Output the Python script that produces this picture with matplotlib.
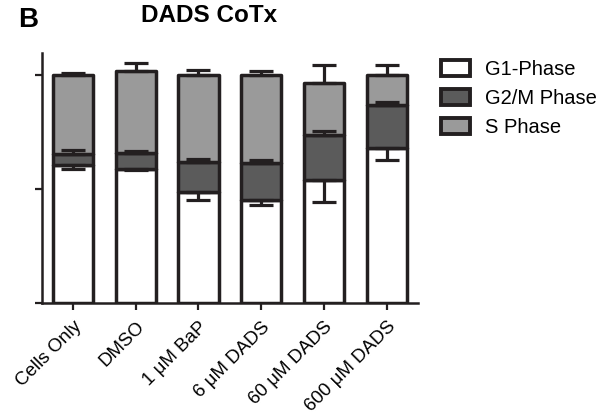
import matplotlib
matplotlib.use("Agg")
import matplotlib.pyplot as plt
from matplotlib.patches import Patch
import numpy as np

plt.rcParams['font.family'] = ['Liberation Sans', 'DejaVu Sans']

categories = ["Cells Only", "DMSO", "1 \u03bcM BaP", "6 \u03bcM DADS", "60 \u03bcM DADS", "600 \u03bcM DADS"]
g1 = [60.8, 58.9, 48.6, 45.4, 54.2, 68.3]
g1_err = [1.9, 0.6, 3.2, 2.5, 9.6, 5.4]
g2m = [4.8, 7.0, 13.5, 16.1, 19.5, 18.9]
g2m_err = [1.7, 0.9, 1.3, 1.4, 1.9, 1.3]
s_phase = [34.5, 36.0, 38.2, 38.8, 22.9, 12.8]
s_err = [0.9, 3.4, 2.0, 1.5, 8.1, 4.5]
series_names = ["G1-Phase", "G2/M Phase", "S Phase"]

edge = "#231f20"
colors = ["#ffffff", "#5b5b5b", "#9a9a9a"]

fig = plt.figure(figsize=(6.02, 4.20), dpi=100)
ax = fig.add_axes([41.7/602, 1-303/420, (418-41.7)/602, (303-52.7)/420])

x = np.arange(len(categories))
w = 0.64
lw = 2.5
g1a = np.array(g1); g2a = np.array(g2m); sa = np.array(s_phase)
ax.bar(x, g1a, w, color=colors[0], edgecolor=edge, linewidth=lw, zorder=2, joinstyle='round')
ax.bar(x, g2a, w, bottom=g1a, color=colors[1], edgecolor=edge, linewidth=lw, zorder=2, joinstyle='round')
ax.bar(x, sa, w, bottom=g1a+g2a, color=colors[2], edgecolor=edge, linewidth=lw, zorder=2, joinstyle='round')

ekw = dict(fmt='none', ecolor=edge, elinewidth=2.3, capsize=8.5, capthick=2.3, zorder=3)
ax.errorbar(x, g1a, yerr=[g1_err, np.zeros(len(x))], **ekw)
ax.errorbar(x, g1a+g2a, yerr=[np.zeros(len(x)), g2m_err], **ekw)
ax.errorbar(x, g1a+g2a+sa, yerr=[np.zeros(len(x)), s_err], **ekw)

ax.set_xlim(-0.5, 5.5)
ax.set_ylim(0, 110)
ax.set_yticks([0, 50, 100])
ax.set_yticklabels([])
ax.set_xticks(x)
ax.set_xticklabels(categories, rotation=45, ha='right', va='top', rotation_mode='anchor', fontsize=13.5)
ax.tick_params(axis='both', direction='out', length=5, width=1.6, color=edge, pad=6)
for sp in ['top', 'right']:
    ax.spines[sp].set_visible(False)
for sp in ['left', 'bottom']:
    ax.spines[sp].set_linewidth(1.8)
    ax.spines[sp].set_color(edge)

handles = [Patch(facecolor=c, edgecolor=edge, linewidth=2.8, joinstyle='round') for c in colors]
fig.legend(handles, series_names, loc='upper left', bbox_to_anchor=(441/602, 1-60/420),
           frameon=False, fontsize=14.5, handlelength=1.45, handleheight=0.8,
           handletextpad=0.75, labelspacing=0.5, borderpad=0, borderaxespad=0)

fig.text(209/602, 1-15/420, "DADS CoTx", fontsize=17.5, fontweight='bold', ha='center', va='center')
fig.text(18/602, 1-20/420, "B", fontsize=20, fontweight='bold', ha='left', va='center')

fig.savefig("out.png", dpi=100)
